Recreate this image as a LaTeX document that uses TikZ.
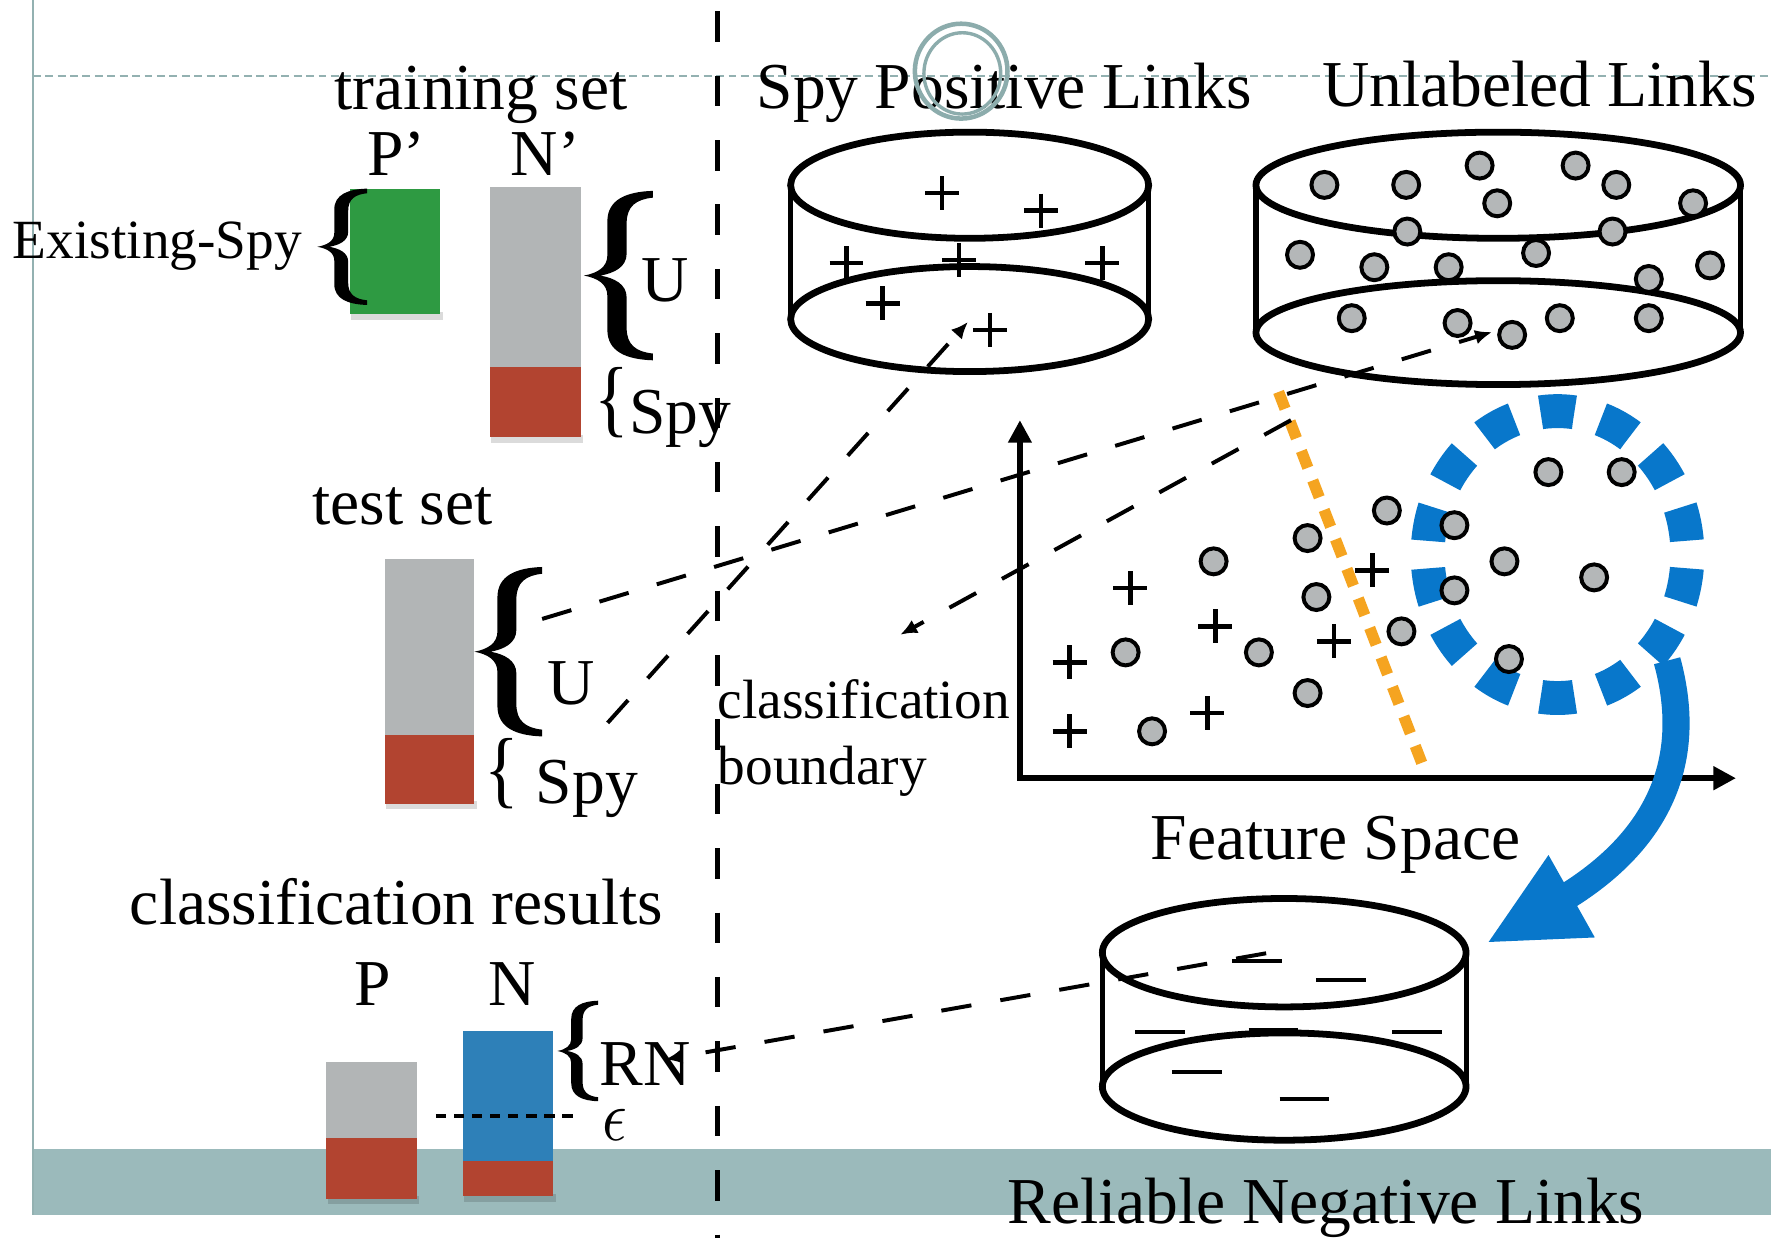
\documentclass[tikz,border=0pt]{standalone}
\usepackage{fontspec}
\setmainfont{Liberation Serif}
\usepackage{graphicx}
\usetikzlibrary{arrows.meta}

\definecolor{barGreen}{RGB}{46,154,66}
\definecolor{barGray}{RGB}{178,181,182}
\definecolor{barRed}{RGB}{178,68,48}
\definecolor{barBlue}{RGB}{46,128,184}
\definecolor{bandTeal}{RGB}{155,186,187}
\definecolor{guideTeal}{RGB}{147,177,177}
\definecolor{ringTeal}{RGB}{140,172,172}
\definecolor{boundOrange}{RGB}{245,164,32}
\definecolor{clusterBlue}{RGB}{8,119,203}
\definecolor{dotGray}{RGB}{180,183,184}

\newcommand\bigtxt{\fontsize{29}{30}\selectfont}
\newcommand\midtxt{\fontsize{24.5}{26}\selectfont}
\newcommand\smallbrace{\raisebox{.1em}{\scalebox{1.1}[1.3]{\{}}}

\tikzset{
  txt/.style={inner sep=0pt, anchor=base, font=\bigtxt},
  txtw/.style={inner sep=0pt, anchor=base west, font=\bigtxt},
  cylrim/.style={line width=3pt},
  cylside/.style={line width=2.25pt},
  flowarrow/.style={line width=1.75pt, dash pattern=on 13.5pt off 13pt,
    -{Latex[length=7.5pt,width=6.5pt]}},
  axisline/.style={line width=2.5pt, line cap=rect, -{Triangle[length=10pt,width=10pt]}},
  barshade/.style={fill=black, opacity=0.14},
  plusmark/.pic={\draw[line width=2pt] (-15,0) -- (15,0) (0,-15) -- (0,15);},
  minusmark/.pic={\draw[line width=1.75pt] (-22,0) -- (22,0);},
  dotmark/.pic={\draw[line width=1.75pt, fill=dotGray] (0,0) circle [radius=11.5];},
  cbrace/.pic={
    \fill (1,-1) .. controls (0.62,-0.99) and (0.34,-0.9) .. (0.34,-0.64)
      -- (0.34,-0.24) .. controls (0.34,-0.1) and (0.2,-0.03) .. (0,0)
      .. controls (0.2,0.03) and (0.34,0.1) .. (0.34,0.24)
      -- (0.34,0.64) .. controls (0.34,0.9) and (0.62,0.99) .. (1,1)
      -- (1,0.92) .. controls (0.76,0.9) and (0.62,0.82) .. (0.62,0.62)
      -- (0.62,0.26) .. controls (0.62,0.1) and (0.44,0.03) .. (0.24,0)
      .. controls (0.44,-0.03) and (0.62,-0.1) .. (0.62,-0.26)
      -- (0.62,-0.62) .. controls (0.62,-0.82) and (0.76,-0.9) .. (1,-0.92)
      -- cycle;
  }
}

\begin{document}
\begin{tikzpicture}[x=0.5pt,y=-0.5pt]
\fill[white] (0,0) rectangle (1568,1096);
\useasboundingbox (0,0) rectangle (1568,1096);

% slide frame: footer band, margin line and guide
\fill[bandTeal] (29,1017) rectangle (1568,1076);
\draw[guideTeal, line width=1pt] (29,0) -- (29,1076);
\draw[guideTeal, line width=0.8pt, dash pattern=on 3.5pt off 2pt] (29,67) -- (1568,67);

% divider between the two halves
\draw[line width=2.25pt, dash pattern=on 13.5pt off 15pt, dash phase=23.5pt] (635,0) -- (635,1096);

% ---------- training set ----------
\node[txt] (trainLbl) at (426,97) {training set};
\node[txt] (pPrime) at (351,155) {P’};
\node[txt] (nPrime) at (483,155) {N’};
\fill[barshade] (311,276) rectangle (392,283);
\fill[barGreen] (310,167) rectangle (390,278);
\fill[barshade] (435,385) rectangle (516,392);
\fill[barGray] (434,166) rectangle (514,324.5);
\fill[barRed] (434,324.5) rectangle (514,387);
\path (281,218.5) pic[xscale=44, yscale=51.5] {cbrace};
\node[txtw, font=\midtxt] (exSpy) at (11,228.6) {Existing-Spy};
\path (517,244) pic[xscale=61, yscale=75] {cbrace};
\node[txt] (trainU) at (589,267) {U};
\node[txtw] (trainSpy) at (526,383.5) {\smallbrace Spy};

% ---------- test set ----------
\node[txt] (testLbl) at (356.5,464.6) {test set};
\fill[barshade] (342,709) rectangle (422,716);
\fill[barGray] (341,495) rectangle (420,651);
\fill[barRed] (341,651) rectangle (420,711.5);
\path (420,577) pic[xscale=60, yscale=75] {cbrace};
\node[txt] (testU) at (506,624) {U};
\node[txtw] (testSpy) at (429,711.5) {\smallbrace\ Spy};
\coordinate (tsU) at (480,548);
\coordinate (tsSpy) at (538,640);

% ---------- classification results ----------
\node[txt] (resLbl) at (351,818.6) {classification results};
\node[txt] (pLbl) at (330,890) {P};
\node[txt] (nLbl) at (453.5,890) {N};
\fill[barshade] (290,1059) rectangle (371,1066);
\fill[barGray] (289,940.5) rectangle (369,1007.4);
\fill[barRed] (289,1007.4) rectangle (369,1061.4);
\fill[barshade] (411,1057) rectangle (492,1064);
\fill[barBlue] (410,912.4) rectangle (490,1028);
\fill[barRed] (410,1028) rectangle (490,1059);
\path (493.5,930.5) pic[xscale=36, yscale=44.5] {cbrace};
\node[txtw] (rnLbl) at (530.5,961) {RN};
\draw[line width=2pt, dash pattern=on 4.5pt off 3.5pt] (386,988) -- (508,988);
\node[inner sep=0pt, anchor=base] (epsLbl) at (544,1010) {\scalebox{2.7}[3.2]{$\epsilon$}};
\coordinate (rnDst) at (589,938);

% ---------- spy positive links ----------
\node[txt] (spyLbl) at (889,96) {Spy Positive Links};
\draw[cylrim] (858.5,164) ellipse [x radius=158.5, y radius=47];
\draw[cylrim] (858.5,282.5) ellipse [x radius=158.5, y radius=46.5];
\draw[cylside] (700,164) -- (700,282.5) (1017,164) -- (1017,282.5);
\foreach \px/\py in {834/171, 921.7/186.5, 749.5/233, 849/230, 976/233, 781.5/268.5, 876.4/292}
  \path (\px,\py) pic {plusmark};
\coordinate (spyArr) at (857,285);

% ---------- unlabeled links ----------
\node[txt] (unlLbl) at (1363,94.5) {Unlabeled Links};
\draw[cylrim] (1326.5,164) ellipse [x radius=214.5, y radius=47];
\draw[cylrim] (1326.5,294.5) ellipse [x radius=214.5, y radius=46];
\draw[cylside] (1112,164) -- (1112,294.5) (1541,164) -- (1541,294.5);
\foreach \px/\py in {1172.6/163.7, 1245/163.7, 1310/146.6, 1395/146.6, 1431/163.7,
    1325.6/180, 1499/180, 1246/205, 1427.7/205, 1151/225.6, 1216.8/236.6,
    1282.6/236.6, 1360/224, 1459.8/247, 1514/235, 1196.8/281.7, 1290.5/286,
    1338.8/296.5, 1381/281.7, 1459.8/281.7}
  \path (\px,\py) pic {dotmark};
\coordinate (unlArr) at (1321,294);

% ---------- feature space ----------
\coordinate (origin) at (903,689);
\draw[axisline] (origin) -- (903,372);
\draw[axisline] (origin) -- (1537,689);
\draw[boundOrange, line width=5pt, dash pattern=on 8pt off 6pt] (1132,347) -- (1259,676);
\coordinate (bndTop) at (1143,372);
\coordinate (bndLbl) at (797,562);
\draw[clusterBlue, line width=15pt, dash pattern=on 15pt off 12.17pt, dash phase=21.1pt]
  (1379,491) ellipse [x radius=115, y radius=127];
\foreach \px/\py in {1000.7/520.7, 1076/554.6, 947/586.5, 1181/567.9, 1215/505, 947/647.5, 1069/631.3}
  \path (\px,\py) pic {plusmark};
\foreach \px/\py in {1074.5/497, 996.6/577.6, 1114.6/577.6, 1157.7/476.4, 1165.5/528.6,
    1157.7/613.6, 1020/647.5, 1227.9/452, 1287.7/465, 1332/497, 1287.7/522.7,
    1240.8/559, 1336/583.5, 1370.9/418, 1435.8/418, 1411.4/511.2}
  \path (\px,\py) pic {dotmark};
\node[txtw, font=\midtxt] (bndTxt1) at (635,636) {classification};
\node[txtw, font=\midtxt] (bndTxt2) at (635,694.7) {boundary};
\node[txt] (featLbl) at (1182.5,761) {Feature Space};

% cluster handed down to the reliable negatives
\draw[clusterBlue, line width=12pt] (1476,585) .. controls (1502,680) and (1462,748) .. (1385,795);
\fill[clusterBlue] (1371,757) -- (1318,834) -- (1412,830) -- cycle;

% ---------- reliable negative links ----------
\draw[cylrim] (1137,843.5) ellipse [x radius=161, y radius=48];
\draw[cylrim] (1137,962) ellipse [x radius=161, y radius=47.5];
\draw[cylside] (976,843.5) -- (976,962) (1298,843.5) -- (1298,962);
\foreach \px/\py in {1113/851, 1187/867.3, 1027/914, 1127.5/911.5, 1254.5/914, 1059.5/949, 1155/973}
  \path (\px,\py) pic {minusmark};
\coordinate (rnSrc) at (1121,844);
\node[txt] (rnlLbl) at (1174,1083) {Reliable Negative Links};

% ---------- flows ----------
\draw[flowarrow] (tsU) -- (unlArr);
\draw[flowarrow] (tsSpy) -- (spyArr);
\draw[flowarrow] (bndTop) -- (bndLbl);
\draw[flowarrow] (rnSrc) -- (rnDst);

% ring mark over the heading
\draw[ringTeal, line width=2pt] (851,63) ellipse [x radius=41, y radius=42];
\draw[ringTeal, line width=1.5pt] (852,65) ellipse [x radius=34, y radius=36];
\end{tikzpicture}
\end{document}
